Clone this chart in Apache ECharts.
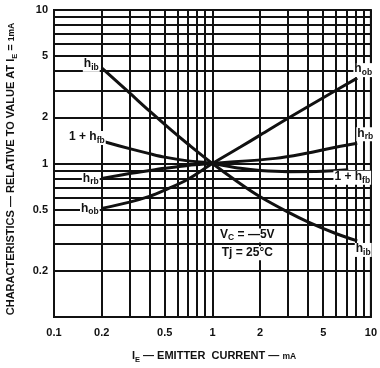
<!DOCTYPE html>
<html>
<head>
<meta charset="utf-8">
<script src="https://cdn.jsdelivr.net/npm/echarts@6/dist/echarts.min.js"></script>
<style>
  html, body { margin: 0; padding: 0; background: #fff; }
  #chart { width: 380px; height: 368px; }
</style>
</head>
<body>
<div id="chart"></div>
<script>
// Log-log grid lines (1..9 per decade) and the labelled values
const gridValues = [0.1, 0.2, 0.3, 0.4, 0.5, 0.6, 0.7, 0.8, 0.9, 1, 2, 3, 4, 5, 6, 7, 8, 9, 10];
const xTickLabels = [0.1, 0.2, 0.5, 1, 2, 5, 10];
const yTickLabels = [0.2, 0.5, 1, 2, 5, 10];

// Emitter current I_E (mA) and normalised characteristics
const hibX = [0.2, 0.3, 0.4, 0.55, 0.7, 1, 1.5, 2, 3, 4, 6, 8.2];
const hibY = [4.2, 2.88, 2.2, 1.65, 1.34, 1, 0.738, 0.607, 0.482, 0.417, 0.35, 0.313];

const hobX = [0.2, 0.3, 0.4, 0.5, 0.7, 1, 1.5, 2, 3, 5, 8.2];
const hobY = [0.51, 0.56, 0.61, 0.67, 0.79, 1, 1.28, 1.53, 1.97, 2.68, 3.6];

const hrbX = [0.2, 0.3, 0.4, 0.5, 0.7, 1, 2.5, 4, 5.2, 8.2];
const hrbY = [0.8, 0.86, 0.9, 0.93, 0.97, 1, 1.08, 1.17, 1.24, 1.355];

const hfbX = [0.2, 0.3, 0.4, 0.5, 0.7, 1, 1.5, 2, 3, 5, 7.2];
const hfbY = [1.4, 1.25, 1.16, 1.1, 1.04, 1, 0.93, 0.9, 0.885, 0.89, 0.91];

// Test conditions note, anchored in data space
const noteAnchor = [1.66, 0.35];
const noteAnchor2 = [1.66, 0.26];

const FONT = 'Liberation Sans';
const INK = '#111';

// Main glyphs sit at the top of the line box, subscripts at its bottom
const labelRich = {
  h: { fontFamily: FONT, fontSize: 12, fontWeight: 'bold', color: INK, lineHeight: 14, verticalAlign: 'top' },
  s: { fontFamily: FONT, fontSize: 8.5, fontWeight: 'bold', color: INK, lineHeight: 7, verticalAlign: 'bottom' }
};

function curveLabel(text, position, offset) {
  return {
    show: true,
    position: position,
    offset: offset,
    distance: 2,
    backgroundColor: '#fff',
    padding: [0, 1, 0, 1],
    formatter: text,
    rich: labelRich
  };
}

function buildSeries(name, xs, ys, startLabel, endLabel) {
  const data = xs.map((x, i) => ({ value: [x, ys[i]] }));
  data[0].label = startLabel;
  data[data.length - 1].label = endLabel;
  return {
    name: name,
    type: 'line',
    data: data,
    smooth: 0.35,
    showSymbol: true,
    symbol: 'circle',
    symbolSize: 0,
    lineStyle: { color: INK, width: 3 },
    itemStyle: { color: INK },
    label: { show: false },
    z: 5
  };
}

const axisLabelStyle = {
  fontFamily: FONT, fontSize: 11, fontWeight: 'bold', color: INK
};

const chart = echarts.init(document.getElementById('chart'), null, { renderer: 'canvas' });

const series = [
  buildSeries('h_ib', hibX, hibY,
    curveLabel('{h|h}{s|ib}', 'left', [0, -3]),
    curveLabel('{h|h}{s|ib}', 'bottom', [6, 0])),
  buildSeries('h_ob', hobX, hobY,
    curveLabel('{h|h}{s|ob}', 'left', [0, 1]),
    curveLabel('{h|h}{s|ob}', 'top', [6, 1])),
  buildSeries('h_rb', hrbX, hrbY,
    curveLabel('{h|h}{s|rb}', 'left', [0, 1]),
    curveLabel('{h|h}{s|rb}', 'top', [8, 0])),
  buildSeries('1 + h_fb', hfbX, hfbY,
    curveLabel('{h|1 + h}{s|fb}', 'left', [6, -3]),
    curveLabel('{h|1 + h}{s|fb}', 'bottom', [4, -1]))
];

// Conditions note as label-only mark points
series[0].markPoint = {
  symbol: 'circle',
  symbolSize: 0,
  silent: true,
  data: [
    {
      coord: noteAnchor,
      label: {
        show: true, position: 'inside', offset: [0, 2], backgroundColor: '#fff', padding: [0, 2],
        formatter: '{h|V}{s|C}{h| = —5V}',
        rich: labelRich
      }
    },
    {
      coord: noteAnchor2,
      label: {
        show: true, position: 'inside', backgroundColor: '#fff', padding: [0, 2],
        formatter: '{h|Tj = 25°C}',
        rich: labelRich
      }
    }
  ]
};

const titleRich = {
  t: { fontFamily: FONT, fontSize: 11, fontWeight: 'bold', fill: INK, lineHeight: 14, verticalAlign: 'top' },
  s: { fontFamily: FONT, fontSize: 7.5, fontWeight: 'bold', fill: INK, lineHeight: 7, verticalAlign: 'bottom' },
  m: { fontFamily: FONT, fontSize: 8.5, fontWeight: 'bold', fill: INK, lineHeight: 14, verticalAlign: 'middle' }
};

chart.setOption({
  backgroundColor: '#fff',
  animation: false,
  grid: {
    left: 54, right: 8, top: 10, bottom: 51,
    show: true, borderColor: INK, borderWidth: 2, backgroundColor: 'transparent'
  },
  xAxis: {
    type: 'log', logBase: 10, min: 0.1, max: 10,
    axisLine: { show: true, lineStyle: { color: INK, width: 2 } },
    axisTick: { show: false, customValues: gridValues },
    axisLabel: { customValues: xTickLabels, margin: 10, ...axisLabelStyle, formatter: v => String(+v.toPrecision(3)) },
    splitLine: { show: true, lineStyle: { color: INK, width: 2 } },
    minorTick: { show: false },
    minorSplitLine: { show: false }
  },
  yAxis: {
    type: 'log', logBase: 10, min: 0.1, max: 10,
    axisLine: { show: true, lineStyle: { color: INK, width: 2 } },
    axisTick: { show: false, customValues: gridValues },
    axisLabel: { customValues: yTickLabels, margin: 6, ...axisLabelStyle, formatter: v => String(+v.toPrecision(3)) },
    splitLine: { show: true, lineStyle: { color: INK, width: 2 } }
  },
  graphic: [
    {
      type: 'text',
      x: 12, y: 169,
      rotation: Math.PI / 2,
      style: {
        text: '{t|CHARACTERISTICS — RELATIVE TO VALUE AT I}{s|E}{t| = }{m|1mA}',
        align: 'center', verticalAlign: 'middle',
        rich: titleRich
      }
    },
    {
      type: 'text',
      x: 214, y: 357,
      style: {
        text: '{t|I}{s|E}{t| — EMITTER  CURRENT — }{m|mA}',
        align: 'center', verticalAlign: 'middle',
        rich: titleRich
      }
    }
  ],
  series: series
});
</script>
</body>
</html>
